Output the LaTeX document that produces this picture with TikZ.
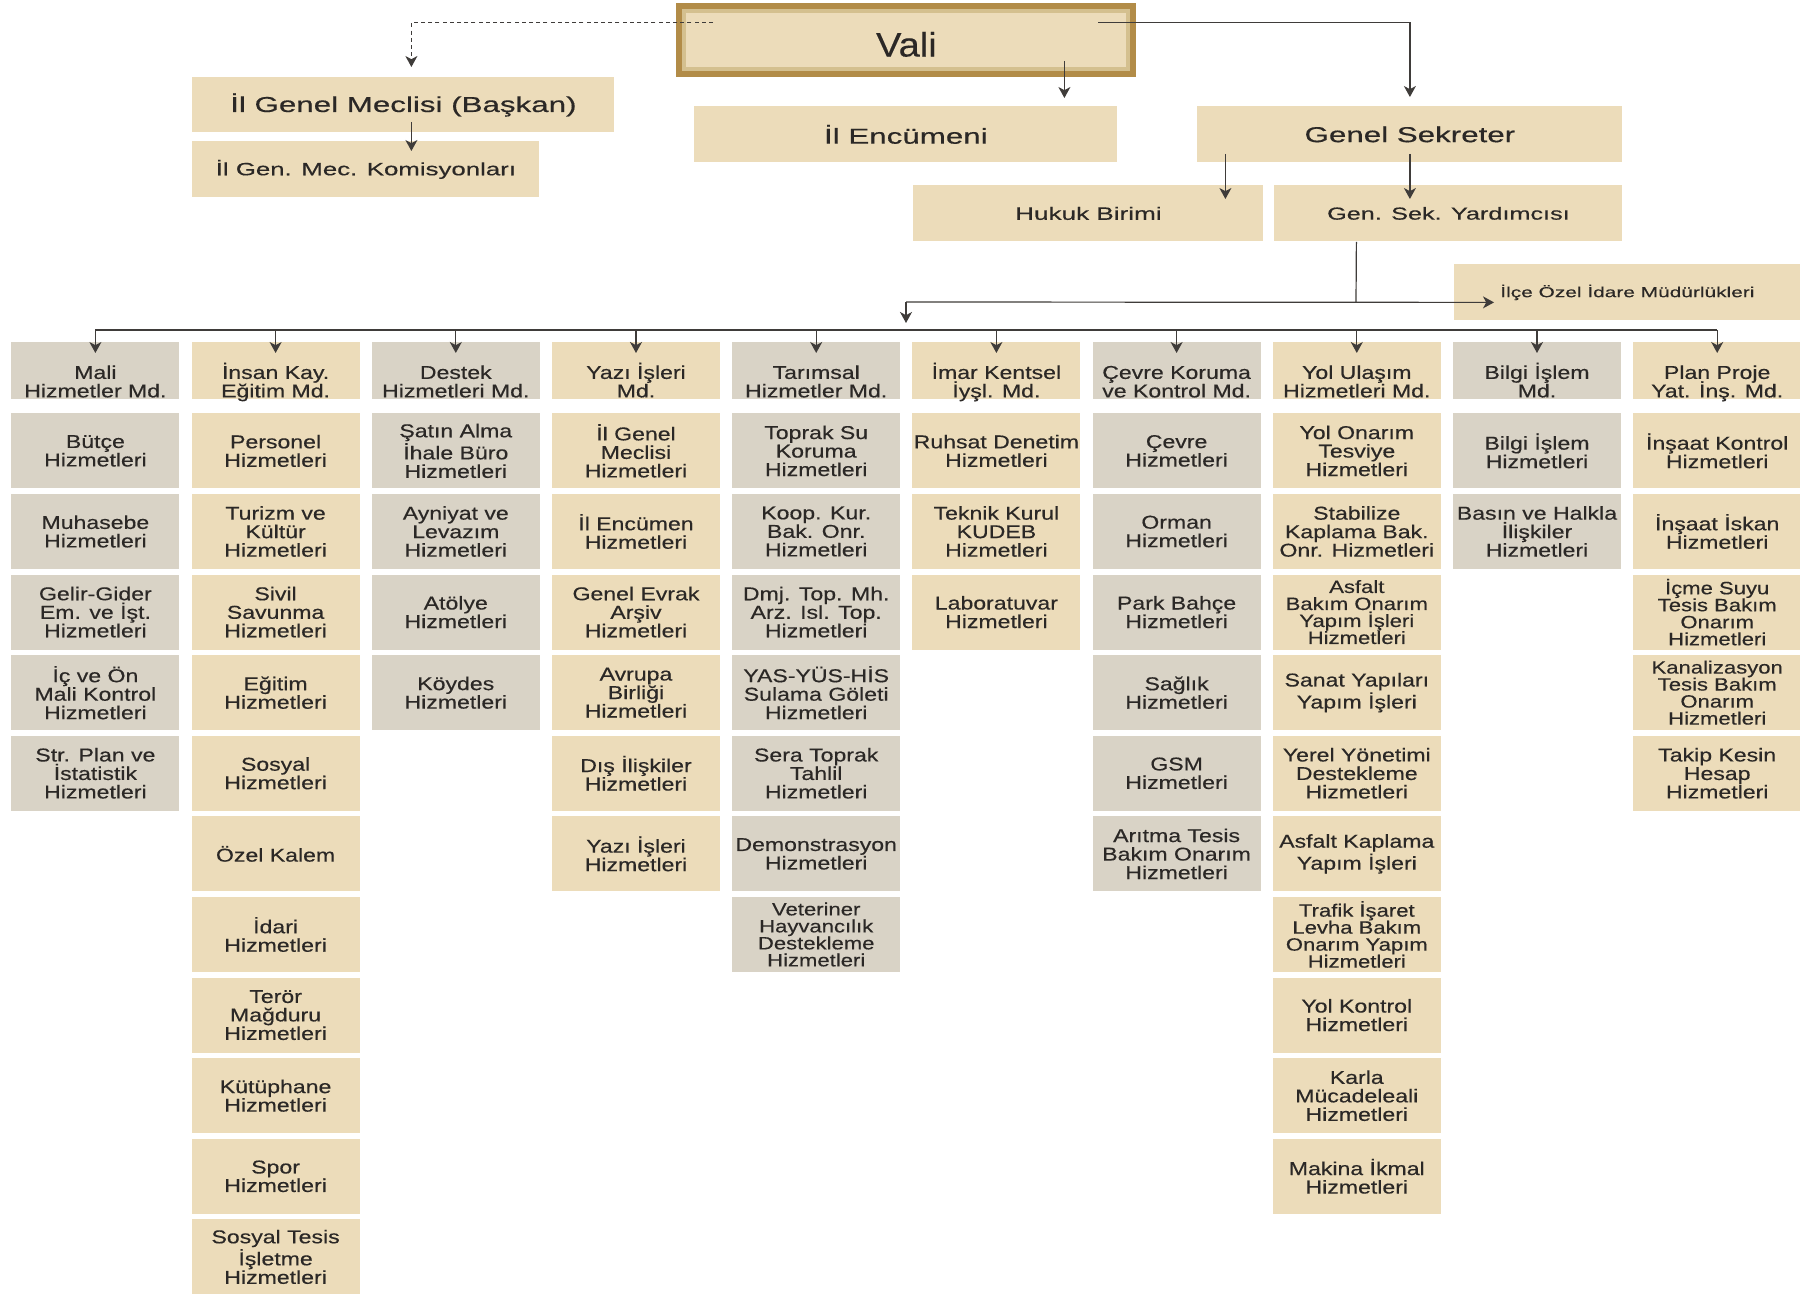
\documentclass[tikz,border=0pt]{standalone}
\usepackage{fontspec}
\setmainfont{Liberation Sans}
\newfontfamily\fcol[FakeStretch=1.24,FakeBold=0.4]{Liberation Sans}
\newfontfamily\ftop[FakeStretch=1.45,FakeBold=0.4]{Liberation Sans}
\newfontfamily\fvali[FakeStretch=1.12,FakeBold=0.3]{Liberation Sans}
\usetikzlibrary{arrows.meta}
\definecolor{boxtan}{HTML}{ECDCBA}
\definecolor{boxgrey}{HTML}{D9D3C6}
\definecolor{vgold}{HTML}{B28C48}
\definecolor{vband}{HTML}{D4C08F}
\definecolor{txt}{HTML}{2B2826}
\definecolor{linec}{HTML}{3F3C3A}
\tikzset{
 subst/.style={inner sep=0pt, minimum width=84pt, minimum height=37.5pt, align=center, text=txt, font=\fcol\fontsize{9.3}{9.25}\selectfont},
 four/.style={font=\fcol\fontsize{8.9}{8.5}\selectfont},
 headst/.style={inner sep=0pt, minimum width=84pt, minimum height=28.5pt},
 headtxt/.style={inner sep=0pt, align=center, text=txt, font=\fcol\fontsize{9.3}{9.25}\selectfont},
 topst/.style={fill=boxtan, inner sep=0pt, text=txt, anchor=north west, minimum height=28pt, font=\ftop\fontsize{10.8}{12}\selectfont},
 topsmall/.style={font=\ftop\fontsize{9}{10}\selectfont},
 conn/.style={draw=linec, line width=0.6pt},
 arr/.style={conn, -{Stealth[length=5.5pt,width=6pt,inset=1.6pt]}},
}
\newcommand\mksub[5][]{\node[subst,#1,fill=#4,anchor=north west] (c#2r#3) at ({11+(#2-1)*180.2},{413+(#3-1)*80.6}) {#5};}
\newcommand\mkhead[4]{%
 \node[headst,fill=#2,anchor=north west] (c#1h) at ({11+(#1-1)*180.2},342) {};
 \node[headtxt,anchor=south] (c#1t) at ([yshift=1pt]c#1h.south) {#3\\\smash{#4}};
 \draw[arr] (c#1h.north |- busy) -- ([yshift=-5.5pt]c#1h.north);}
\begin{document}
\begin{tikzpicture}[x=0.5pt,y=-0.5pt]
\fill[white] (0,0) rectangle (1800,1295);
\useasboundingbox (0,0) rectangle (1800,1295);
% top level
\node[fill=vgold, inner sep=0pt, minimum width=230pt, minimum height=37pt, anchor=north west] (vali) at (676,3) {};
\node[fill=vband, inner sep=0pt, minimum width=224pt, minimum height=31pt] (valimid) at (vali.center) {};
\node[fill=boxtan, inner sep=0pt, minimum width=220pt, minimum height=27pt] (valiin) at (vali.center) {};
\node[inner sep=0pt, text=txt, font=\fvali\fontsize{17}{18}\selectfont] (valit) at ([yshift=-2pt]vali.center) {Vali};
\node[topst, minimum width=211pt, minimum height=27.5pt] (igm) at (192,77) {İl Genel Meclisi (Başkan)};
\node[topst, font=\ftop\fontsize{8.9}{10}\selectfont, minimum width=173.5pt] (igmk) at (192,141) {İl Gen. Mec. Komisyonları};
\node[topst, minimum width=211.5pt] (enc) at (694,106) {İl Encümeni};
\node[topst, minimum width=212.5pt] (gs) at (1197,106) {Genel Sekreter};
\node[topst, topsmall, minimum width=175pt] (hukuk) at (913,185) {Hukuk Birimi};
\node[topst, font=\ftop\fontsize{8.7}{10}\selectfont, minimum width=174pt] (gsy) at (1274,185) {Gen. Sek. Yardımcısı};
\node[topst, font=\ftop\fontsize{7.2}{8}\selectfont, minimum width=173pt] (ilce) at (1454,264) {İlçe Özel İdare Müdürlükleri};
% connectors top
\coordinate (vdl) at (713,22.7);
\coordinate (vsr) at (1098,22.7);
\draw[arr, dash pattern=on 2pt off 1.6pt] (vdl) -| ([xshift=4pt,yshift=5pt]igm.north);
\draw[arr] (vsr) -| ([yshift=4.5pt]gs.north);
\draw[arr] ([xshift=79pt,yshift=8.5pt]vali.south) -- ([xshift=79.25pt,yshift=4pt]enc.north);
\coordinate (k1) at ([xshift=4pt,yshift=5.5pt]igm.south);
\draw[arr] (k1) -- ([xshift=22.75pt,yshift=-5pt]igmk.north);
\draw[arr] ([xshift=-92.25pt,yshift=4.5pt]gs.south) -- ([xshift=68.5pt,yshift=-7pt]hukuk.north);
\draw[arr] ([yshift=4.5pt]gs.south) -- ([xshift=-19.25pt,yshift=-7pt]gsy.north);
\coordinate (hub) at (1356,302);
\coordinate (hubl) at (906,302);
\coordinate (hubd) at (906,323);
\draw[conn] ([xshift=-46pt]gsy.south) -- (hub);
\draw[arr] (hubl) -- ([xshift=20pt,yshift=-5pt]ilce.west);
\draw[arr] (hubl) -- (hubd);
\coordinate (busy) at (0,330);
% column heads
\mkhead{1}{boxgrey}{Mali}{Hizmetler Md.}
\mkhead{2}{boxtan}{İnsan Kay.}{Eğitim Md.}
\mkhead{3}{boxgrey}{Destek}{Hizmetleri Md.}
\mkhead{4}{boxtan}{Yazı İşleri}{Md.}
\mkhead{5}{boxgrey}{Tarımsal}{Hizmetler Md.}
\mkhead{6}{boxtan}{İmar Kentsel}{İyşl. Md.}
\mkhead{7}{boxgrey}{Çevre Koruma}{ve Kontrol Md.}
\mkhead{8}{boxtan}{Yol Ulaşım}{Hizmetleri Md.}
\mkhead{9}{boxgrey}{Bilgi İşlem}{Md.}
\mkhead{10}{boxtan}{Plan Proje}{Yat. İnş. Md.}
\draw[conn] (c1h.north |- busy) -- (c10h.north |- busy);
% column 1
\mksub{1}{1}{boxgrey}{Bütçe\\Hizmetleri}
\mksub{1}{2}{boxgrey}{Muhasebe\\Hizmetleri}
\mksub{1}{3}{boxgrey}{Gelir-Gider\\Em. ve İşt.\\Hizmetleri}
\mksub{1}{4}{boxgrey}{İç ve Ön\\Mali Kontrol\\Hizmetleri}
\mksub{1}{5}{boxgrey}{Str. Plan ve\\İstatistik\\Hizmetleri}
% column 2
\mksub{2}{1}{boxtan}{Personel\\Hizmetleri}
\mksub{2}{2}{boxtan}{Turizm ve\\Kültür\\Hizmetleri}
\mksub{2}{3}{boxtan}{Sivil\\Savunma\\Hizmetleri}
\mksub{2}{4}{boxtan}{Eğitim\\Hizmetleri}
\mksub{2}{5}{boxtan}{Sosyal\\Hizmetleri}
\mksub{2}{6}{boxtan}{Özel Kalem}
\mksub{2}{7}{boxtan}{İdari\\Hizmetleri}
\mksub{2}{8}{boxtan}{Terör\\Mağduru\\Hizmetleri}
\mksub{2}{9}{boxtan}{Kütüphane\\Hizmetleri}
\mksub{2}{10}{boxtan}{Spor\\Hizmetleri}
\mksub{2}{11}{boxtan}{Sosyal Tesis\\İşletme\\Hizmetleri}
% column 3
\mksub{3}{1}{boxgrey}{Şatın Alma\\İhale Büro\\Hizmetleri}
\mksub{3}{2}{boxgrey}{Ayniyat ve\\Levazım\\Hizmetleri}
\mksub{3}{3}{boxgrey}{Atölye\\Hizmetleri}
\mksub{3}{4}{boxgrey}{Köydes\\Hizmetleri}
% column 4
\mksub{4}{1}{boxtan}{İl Genel\\Meclisi\\Hizmetleri}
\mksub{4}{2}{boxtan}{İl Encümen\\Hizmetleri}
\mksub{4}{3}{boxtan}{Genel Evrak\\Arşiv\\Hizmetleri}
\mksub{4}{4}{boxtan}{Avrupa\\Birliği\\Hizmetleri}
\mksub{4}{5}{boxtan}{Dış İlişkiler\\Hizmetleri}
\mksub{4}{6}{boxtan}{Yazı İşleri\\Hizmetleri}
% column 5
\mksub{5}{1}{boxgrey}{Toprak Su\\Koruma\\Hizmetleri}
\mksub{5}{2}{boxgrey}{Koop. Kur.\\Bak. Onr.\\Hizmetleri}
\mksub{5}{3}{boxgrey}{Dmj. Top. Mh.\\Arz. Isl. Top.\\Hizmetleri}
\mksub{5}{4}{boxgrey}{YAS-YÜS-HİS\\Sulama Göleti\\Hizmetleri}
\mksub{5}{5}{boxgrey}{Sera Toprak\\Tahlil\\Hizmetleri}
\mksub{5}{6}{boxgrey}{Demonstrasyon\\Hizmetleri}
\mksub[four]{5}{7}{boxgrey}{Veteriner\\Hayvancılık\\Destekleme\\Hizmetleri}
% column 6
\mksub{6}{1}{boxtan}{Ruhsat Denetim\\Hizmetleri}
\mksub{6}{2}{boxtan}{Teknik Kurul\\KUDEB\\Hizmetleri}
\mksub{6}{3}{boxtan}{Laboratuvar\\Hizmetleri}
% column 7
\mksub{7}{1}{boxgrey}{Çevre\\Hizmetleri}
\mksub{7}{2}{boxgrey}{Orman\\Hizmetleri}
\mksub{7}{3}{boxgrey}{Park Bahçe\\Hizmetleri}
\mksub{7}{4}{boxgrey}{Sağlık\\Hizmetleri}
\mksub{7}{5}{boxgrey}{GSM\\Hizmetleri}
\mksub{7}{6}{boxgrey}{Arıtma Tesis\\Bakım Onarım\\Hizmetleri}
% column 8
\mksub{8}{1}{boxtan}{Yol Onarım\\Tesviye\\Hizmetleri}
\mksub{8}{2}{boxtan}{Stabilize\\Kaplama Bak.\\Onr. Hizmetleri}
\mksub[four]{8}{3}{boxtan}{Asfalt\\Bakım Onarım\\Yapım İşleri\\Hizmetleri}
\mksub{8}{4}{boxtan}{Sanat Yapıları\\Yapım İşleri}
\mksub{8}{5}{boxtan}{Yerel Yönetimi\\Destekleme\\Hizmetleri}
\mksub{8}{6}{boxtan}{Asfalt Kaplama\\Yapım İşleri}
\mksub[four]{8}{7}{boxtan}{Trafik İşaret\\Levha Bakım\\Onarım Yapım\\Hizmetleri}
\mksub{8}{8}{boxtan}{Yol Kontrol\\Hizmetleri}
\mksub{8}{9}{boxtan}{Karla\\Mücadeleali\\Hizmetleri}
\mksub{8}{10}{boxtan}{Makina İkmal\\Hizmetleri}
% column 9
\mksub{9}{1}{boxgrey}{Bilgi İşlem\\Hizmetleri}
\mksub{9}{2}{boxgrey}{Basın ve Halkla\\İlişkiler\\Hizmetleri}
% column 10
\mksub{10}{1}{boxtan}{İnşaat Kontrol\\Hizmetleri}
\mksub{10}{2}{boxtan}{İnşaat İskan\\Hizmetleri}
\mksub[four]{10}{3}{boxtan}{İçme Suyu\\Tesis Bakım\\Onarım\\Hizmetleri}
\mksub[four]{10}{4}{boxtan}{Kanalizasyon\\Tesis Bakım\\Onarım\\Hizmetleri}
\mksub{10}{5}{boxtan}{Takip Kesin\\Hesap\\Hizmetleri}
\end{tikzpicture}
\end{document}
